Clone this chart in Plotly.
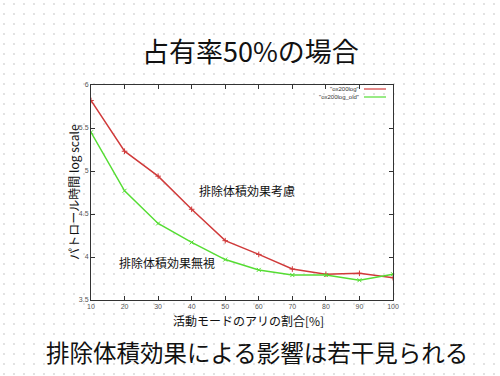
import plotly.graph_objects as go

x_vals = [10, 20, 30, 40, 50, 60, 70, 80, 90, 100]
with_effect = [5.82, 5.23, 4.94, 4.555, 4.19, 4.03, 3.86, 3.80, 3.81, 3.76]
without_effect = [5.45, 4.77, 4.39, 4.17, 3.97, 3.85, 3.79, 3.79, 3.73, 3.80]
y_ticks = [3.5, 4, 4.5, 5, 5.5, 6]
y_tick_labels = ["3.5", "4", "4.5", "5", "5.5", "6"]
x_ticks = [10, 20, 30, 40, 50, 60, 70, 80, 90, 100]
legend_names = ['"ox200log"', '"ox200log_old"']
series_colors = ["#d03a3a", "#55dd33"]

JP = "Noto Sans CJK JP"
W, H = 500, 376
L, R, T, B = 91, 393, 85, 300  # plot frame in pixels


def px(xp):
    return xp / W


def py(yp):
    return 1 - yp / H


fig = go.Figure()

# background dot texture of the slide, on a full-page pixel axis
dx, dy = [], []
for yy in range(4, H, 10):
    for xx in range(4, W, 10):
        dx.append(xx)
        dy.append(yy)
fig.add_trace(go.Scatter(x=dx, y=dy, xaxis="x", yaxis="y", mode="markers",
                         marker=dict(symbol="square", size=1.3, color="#c4c4c4", line=dict(width=0)),
                         hoverinfo="skip", showlegend=False))

for ys, name, col, sym in [(with_effect, legend_names[0], series_colors[0], "cross-thin"),
                           (without_effect, legend_names[1], series_colors[1], "x-thin")]:
    fig.add_trace(go.Scatter(
        x=x_vals, y=ys, xaxis="x2", yaxis="y2", mode="lines+markers", name=name, showlegend=False,
        line=dict(color=col, width=1.5),
        marker=dict(symbol=sym, size=4, line=dict(color=col, width=1)),
    ))

axis_common = dict(
    showgrid=False, zeroline=False, showline=True, linecolor="#333333",
    linewidth=1, mirror="ticks", ticks="inside", ticklen=4, tickcolor="#333333",
    tickfont=dict(family="Liberation Sans", size=7, color="#555555"),
    automargin=False, fixedrange=True,
)

shapes = []
# manual gnuplot-style legend samples
for i, col in enumerate(series_colors):
    yy = 89 + i * 8
    shapes.append(dict(type="line", xref="paper", yref="paper", x0=px(364), x1=px(386),
                       y0=py(yy), y1=py(yy), line=dict(color=col, width=1.2)))

fig.update_layout(
    width=W, height=H,
    margin=dict(l=0, r=0, t=0, b=0, autoexpand=False),
    paper_bgcolor="white", plot_bgcolor="rgba(0,0,0,0)",
    showlegend=False,
    xaxis=dict(domain=[0, 1], range=[0, W], visible=False, fixedrange=True, anchor="y"),
    yaxis=dict(domain=[0, 1], range=[H, 0], visible=False, fixedrange=True, anchor="x"),
    xaxis2=dict(domain=[px(L), px(R)], range=[10, 100], tickvals=x_ticks, anchor="y2", **axis_common),
    yaxis2=dict(domain=[py(B), py(T)], range=[3.5, 6], tickvals=y_ticks, ticktext=y_tick_labels,
                anchor="x2", **axis_common),
    shapes=shapes,
)

ann = []
ann.append(dict(text="占有率50%の場合", xref="paper", yref="paper", x=px(250), y=py(50),
                xanchor="center", yanchor="middle", showarrow=False,
                font=dict(family=JP, size=27, color="#111111")))
ann.append(dict(text="排除体積効果による影響は若干見られる", xref="paper", yref="paper",
                x=px(257), y=py(352), xanchor="center", yanchor="middle", showarrow=False,
                font=dict(family=JP, size=23.5, color="#111111")))
ann.append(dict(text="活動モードのアリの割合[%]", xref="paper", yref="paper",
                x=px(248), y=py(320), xanchor="center", yanchor="middle", showarrow=False,
                font=dict(family=JP, size=12, color="#111111")))
ann.append(dict(text="パトロール時間 log scale", xref="paper", yref="paper",
                x=px(74), y=py(192), xanchor="center", yanchor="middle", showarrow=False,
                textangle=-90, font=dict(family=JP, size=12, color="#111111")))
ann.append(dict(text="排除体積効果考慮", xref="x2", yref="y2", x=56.5, y=4.77, showarrow=False,
                xanchor="center", yanchor="middle",
                font=dict(family=JP, size=12, color="#111111")))
ann.append(dict(text="排除体積効果無視", xref="x2", yref="y2", x=32.6, y=3.94, showarrow=False,
                xanchor="center", yanchor="middle",
                font=dict(family=JP, size=12, color="#111111")))
for i, name in enumerate(legend_names):
    ann.append(dict(text=name, xref="paper", yref="paper", x=px(361), y=py(89 + i * 8),
                    xanchor="right", yanchor="middle", showarrow=False,
                    font=dict(family="Liberation Sans", size=6, color="#333333")))
fig.update_layout(annotations=ann)

fig.write_html("out.html", post_script="document.body.style.margin='0';",
               config={"displayModeBar": False, "staticPlot": True})
